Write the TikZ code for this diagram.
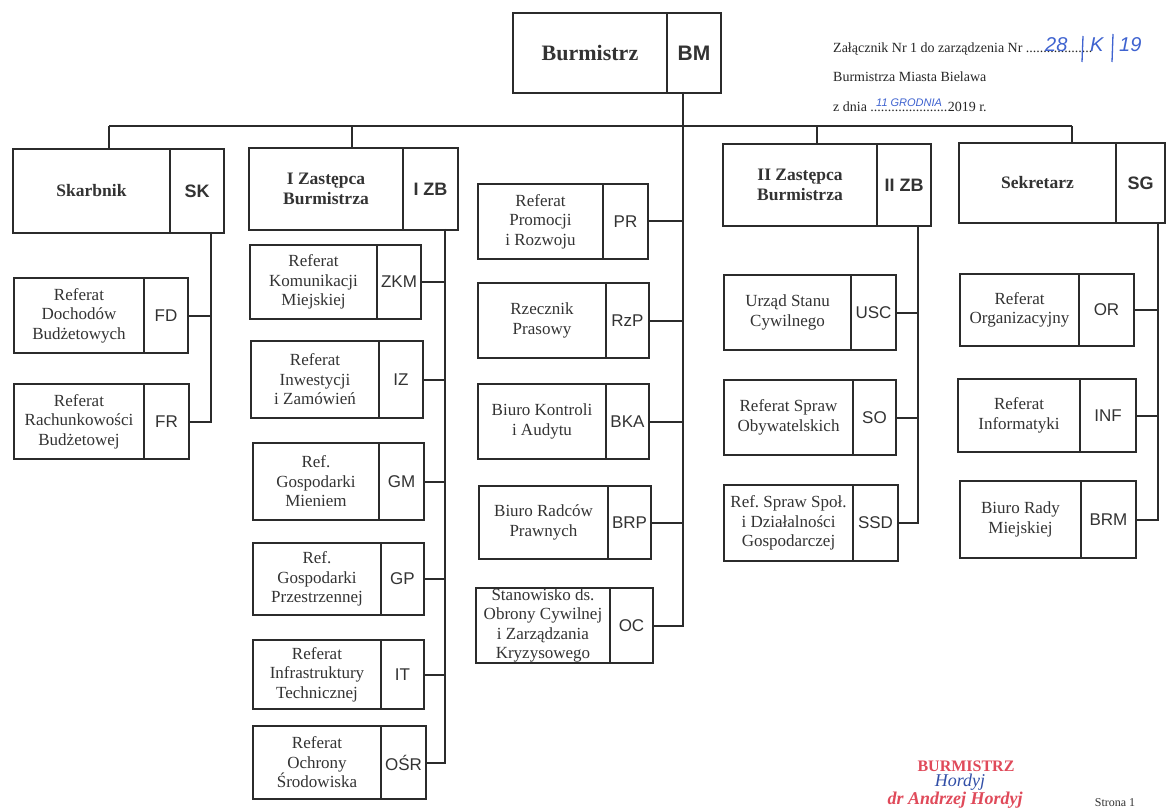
\documentclass[tikz,border=0pt]{standalone}
\usepackage{fontspec}
\setmainfont{Liberation Serif}
\setsansfont{Liberation Sans}
\frenchspacing
\definecolor{linec}{HTML}{2B2B2B}
\definecolor{txtc}{HTML}{333333}
\definecolor{handc}{HTML}{3F63D0}
\definecolor{stampc}{HTML}{E04A5A}
\tikzset{
  cell/.style={draw=linec, line width=2pt, inner sep=0pt, align=center, text=txtc},
  hdrtxt/.style={font=\bfseries\fontsize{17.5}{20}\selectfont},
  hdrabbr/.style={font=\sffamily\bfseries\fontsize{18}{20}\selectfont},
  subtxt/.style={font=\fontsize{17}{19.5}\selectfont},
  subabbr/.style={font=\sffamily\fontsize{17}{20}\selectfont},
  conn/.style={draw=linec, line width=2pt},
  headline/.style={font=\fontsize{14}{16}\selectfont, text=black!85, inner sep=0pt, anchor=base west},
  hand/.style={font=\sffamily\itshape\fontsize{20}{22}\selectfont, text=handc, inner sep=0pt, anchor=base west},
  handstroke/.style={draw=handc, line width=1.3pt},
  handsmall/.style={font=\sffamily\itshape\fontsize{11}{12}\selectfont, text=handc, inner sep=0pt, anchor=base west},
}
\newcommand\orgbox[9]{%
  \pgfmathsetmacro\wa{#4-#2}\pgfmathsetmacro\wb{#5-#4}\pgfmathsetmacro\hh{#6-#3}%
  \node[cell,#9txt, minimum width=\wa pt, minimum height=\hh pt, anchor=north west] (#1) at (#2,#3) {#7};
  \node[cell,#9abbr, minimum width=\wb pt, minimum height=\hh pt, anchor=north west] (#1a) at (#4,#3) {#8};
}
\begin{document}
\begin{tikzpicture}[x=1pt,y=-1pt]
\useasboundingbox[fill=white] (0,0) rectangle (1167,810);

% Burmistrz
\node[cell, font=\bfseries\fontsize{22}{24}\selectfont, minimum width=154pt, minimum height=80pt, anchor=north west] (bm) at (512,12) {Burmistrz};
\node[cell, font=\sffamily\bfseries\fontsize{21}{24}\selectfont, minimum width=54pt, minimum height=80pt, anchor=north west] (bma) at (666,12) {BM};

% header note
\node[headline] (zal) at (833,53) {Załącznik Nr 1 do zarządzenia Nr};
\node[headline] (dots1) at ([xshift=3pt]zal.base east) {...................};
\node[hand] (nr1) at (1045,52) {28};
\draw[handstroke] (1083,36) -- (1082,62);
\node[hand] (nr2) at (1090,52) {K};
\draw[handstroke] (1113,34) -- (1112,62);
\node[hand] (nr3) at (1119,52) {19};
\node[headline] (bmb) at (833,82) {Burmistrza Miasta Bielawa};
\node[headline] (zdnia) at (833,112) {z dnia};
\node[headline] (dots2) at ([xshift=3pt]zdnia.base east) {......................};
\node[headline] (rok) at (dots2.base east) {2019 r.};
\node[handsmall] (data) at (876,107) {11 GRODNIA};

% level 1
\orgbox{sk}{12}{148}{169}{223}{232}{Skarbnik}{SK}{hdr}
\orgbox{izb}{248}{147}{402}{457}{229}{I Zastępca\\Burmistrza}{I ZB}{hdr}
\orgbox{iizb}{722}{143}{876}{930}{225}{II Zastępca\\Burmistrza}{II ZB}{hdr}
\orgbox{sg}{958}{142}{1115}{1164}{222}{Sekretarz}{SG}{hdr}

% Skarbnik
\orgbox{fd}{13}{277}{143}{187}{352}{Referat\\Dochodów\\Budżetowych}{FD}{sub}
\orgbox{fr}{13}{383}{143}{188}{458}{Referat\\Rachunkowości\\Budżetowej}{FR}{sub}

% I ZB
\orgbox{zkm}{249}{244}{376}{420}{318}{Referat\\Komunikacji\\Miejskiej}{ZKM}{sub}
\orgbox{iz}{250}{340}{378}{422}{417}{Referat\\Inwestycji\\i Zamówień}{IZ}{sub}
\orgbox{gm}{252}{442}{378}{423}{519}{Ref.\\Gospodarki\\Mieniem}{GM}{sub}
\orgbox{gp}{252}{542}{380}{423}{614}{Ref.\\Gospodarki\\Przestrzennej}{GP}{sub}
\orgbox{it}{252}{639}{380}{423}{708}{Referat\\Infrastruktury\\Technicznej}{IT}{sub}
\orgbox{osr}{252}{725}{380}{425}{798}{Referat\\Ochrony\\Środowiska}{OŚR}{sub}

% Burmistrz direct
\orgbox{pr}{477}{183}{602}{647}{258}{Referat\\Promocji\\i Rozwoju}{PR}{sub}
\orgbox{rzp}{477}{282}{605}{648}{357}{Rzecznik\\Prasowy}{RzP}{sub}
\orgbox{bka}{477}{383}{605}{648}{458}{Biuro Kontroli\\i Audytu}{BKA}{sub}
\orgbox{brp}{478}{485}{607}{650}{558}{Biuro Radców\\Prawnych}{BRP}{sub}
\orgbox{oc}{475}{587}{609}{652}{662}{Stanowisko ds.\\Obrony Cywilnej\\i Zarządzania\\Kryzysowego}{OC}{sub}

% II ZB
\orgbox{usc}{723}{274}{850}{895}{349}{Urząd Stanu\\Cywilnego}{USC}{sub}
\orgbox{so}{723}{379}{852}{895}{454}{Referat Spraw\\Obywatelskich}{SO}{sub}
\orgbox{ssd}{723}{484}{852}{897}{560}{Ref. Spraw Społ.\\i Działalności\\Gospodarczej}{SSD}{sub}

% Sekretarz
\orgbox{or}{959}{273}{1078}{1133}{345}{Referat\\Organizacyjny}{OR}{sub}
\orgbox{inf}{957}{378}{1079}{1135}{451}{Referat\\Informatyki}{INF}{sub}
\orgbox{brm}{959}{480}{1080}{1135}{557}{Biuro Rady\\Miejskiej}{BRM}{sub}

% connectors
\coordinate (bmdrop) at (683,92);
\coordinate (busL) at (109,126);
\coordinate (busR) at (1072,126);
\coordinate (izbdrop) at (352,126);
\coordinate (iizbdrop) at (817,126);
\coordinate (skspine) at (211,232);
\coordinate (izbspine) at (445,229);
\coordinate (iizbspine) at (918,225);
\coordinate (sgspine) at (1158,222);

\draw[conn] (busL) -- (busR);
\draw[conn] (busL) -- (busL |- sk.north);
\draw[conn] (izbdrop) -- (izbdrop |- izb.north);
\draw[conn] (iizbdrop) -- (iizbdrop |- iizb.north);
\draw[conn] (busR) -- (busR |- sg.north);

\draw[conn] (bmdrop) -- (bmdrop |- oca.east) -- (oca.east);
\foreach \n in {pra,rzpa,bkaa,brpa}{\draw[conn] (\n.east) -- (\n.east -| bmdrop);}

\draw[conn] (skspine) -- (skspine |- fra.east) -- (fra.east);
\draw[conn] (fda.east) -- (fda.east -| skspine);

\draw[conn] (izbspine) -- (izbspine |- osra.east) -- (osra.east);
\foreach \n in {zkma,iza,gma,gpa,ita}{\draw[conn] (\n.east) -- (\n.east -| izbspine);}

\draw[conn] (iizbspine) -- (iizbspine |- ssda.east) -- (ssda.east);
\foreach \n in {usca,soa}{\draw[conn] (\n.east) -- (\n.east -| iizbspine);}

\draw[conn] (sgspine) -- (sgspine |- brma.east) -- (brma.east);
\foreach \n in {ora,infa}{\draw[conn] (\n.east) -- (\n.east -| sgspine);}

% stamp and footer
\node[font=\bfseries\fontsize{16}{18}\selectfont, text=stampc, inner sep=0pt] (st1) at (966,766) {BURMISTRZ};
\node[font=\itshape\fontsize{18}{20}\selectfont, text=handc!80!black, inner sep=0pt] (st2) at (960,782) {Hordyj};
\node[font=\bfseries\itshape\fontsize{18}{19}\selectfont, text=stampc, inner sep=0pt] (st3) at (955,800) {dr Andrzej Hordyj};
\node[font=\fontsize{12}{14}\selectfont, text=black!80, inner sep=0pt] (strona) at (1115,803) {Strona 1};
\end{tikzpicture}
\end{document}
